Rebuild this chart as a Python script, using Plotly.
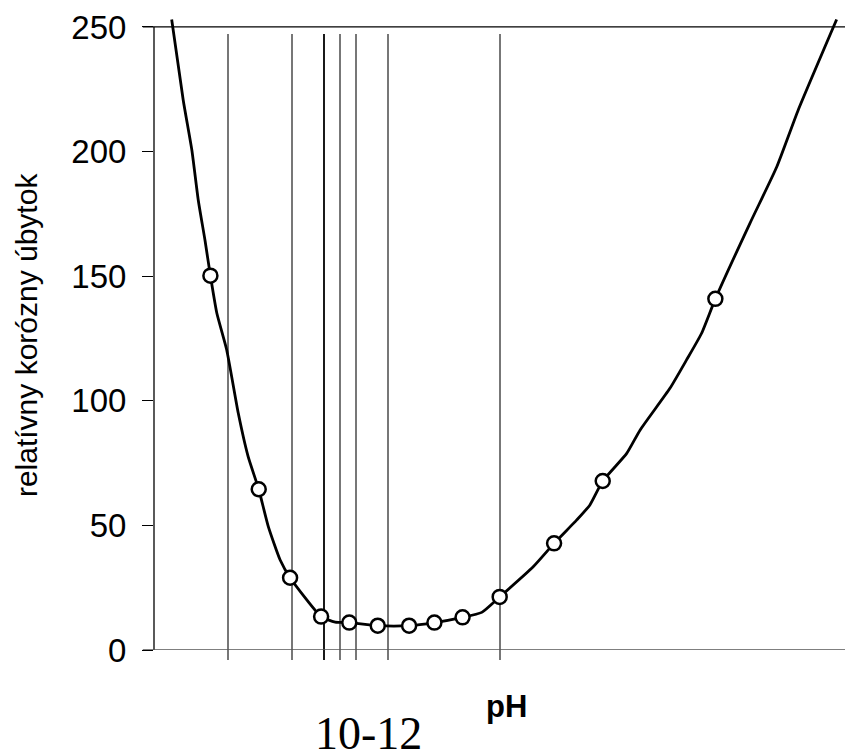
import plotly.graph_objects as go

# measured points (pH-like horizontal scale, relative corrosion loss)
ph_meas = [6.45, 7.96, 8.94, 9.91, 10.79, 11.68, 12.66, 13.45, 14.33, 15.49, 17.19, 18.71, 22.23]
loss_meas = [150.2, 64.5, 29.0, 13.4, 11.0, 9.75, 9.75, 11.0, 13.1, 21.3, 42.8, 67.8, 140.9]

# fitted curve drawn through the measurements
ph_curve = [5.24, 5.60, 5.87, 6.07, 6.28, 6.45, 6.65, 6.96, 7.32, 7.63, 7.96, 8.26, 8.63, 8.94,
            9.91, 10.35, 10.79, 11.68, 12.66, 13.45, 14.33, 14.93, 15.49, 16.53, 17.19, 17.90,
            18.31, 18.71, 19.46, 19.88, 20.81, 21.33, 21.80, 22.23, 23.31, 24.15, 24.82, 26.02]
loss_curve = [253.0, 220.7, 200.6, 180.6, 164.5, 150.2, 135.2, 120.4, 95.1, 77.6, 64.5, 49.5, 36.1, 29.0,
              13.4, 11.2, 11.0, 9.75, 9.75, 11.0, 13.1, 15.1, 21.3, 33.3, 42.8, 52.2,
              58.2, 67.8, 78.9, 88.3, 105.0, 116.4, 127.1, 140.9, 171.2, 193.9, 216.7, 253.0]

# vertical reference lines
vlines_gray = [7, 9, 10.5, 11, 12, 15.5]
vlines_black = [10]

y_ticks = [0, 50, 100, 150, 200, 250]
y_title = "relatívny korózny úbytok"
x_title = "pH"
range_label = "10-12"

SANS = "Liberation Sans, Arial, sans-serif"
SERIF = "Liberation Serif, Times New Roman, serif"

fig = go.Figure()
fig.add_trace(go.Scatter(x=ph_curve, y=loss_curve, mode="lines",
                         line=dict(color="black", width=2.8, shape="spline", smoothing=0.5),
                         hoverinfo="skip", showlegend=False))
fig.add_trace(go.Scatter(x=ph_meas, y=loss_meas, mode="markers",
                         marker=dict(symbol="circle", size=14, color="white",
                                     line=dict(color="black", width=2.5)),
                         showlegend=False))

shapes = []
for v in vlines_gray:
    shapes.append(dict(type="line", xref="x", yref="paper", x0=v, x1=v, y0=-0.0158, y1=0.9762,
                       line=dict(color="#555555", width=1.6), layer="below"))
for v in vlines_black:
    shapes.append(dict(type="line", xref="x", yref="paper", x0=v, x1=v, y0=-0.0158, y1=0.9762,
                       line=dict(color="black", width=1.8), layer="below"))
# top line at 250
shapes.append(dict(type="line", xref="paper", yref="y", x0=-0.016, x1=1, y0=250, y1=250,
                   line=dict(color="black", width=1.3), layer="below"))
# y axis line from 0 to 250
shapes.append(dict(type="line", xref="paper", yref="y", x0=0, x1=0, y0=0, y1=250,
                   line=dict(color="black", width=1.3), layer="below"))
# bottom line
shapes.append(dict(type="line", xref="paper", yref="y", x0=-0.016, x1=1, y0=0, y1=0,
                   line=dict(color="#555555", width=1.3), layer="below"))

fig.update_layout(
    width=845, height=743,
    margin=dict(l=146, r=0, t=11, b=101),
    paper_bgcolor="white", plot_bgcolor="white",
    shapes=shapes,
    xaxis=dict(range=[4.6875, 26.53125], showline=False, showgrid=False, zeroline=False,
               showticklabels=False, ticks=""),
    yaxis=dict(range=[0, 253.2], showline=False, showgrid=False, zeroline=False,
               tickvals=y_ticks, ticks="outside", ticklen=11, tickwidth=1.3, tickcolor="black",
               tickfont=dict(family=SANS, size=33, color="black"), ticklabelstandoff=9),
    annotations=[
        dict(text=y_title, xref="paper", yref="paper", x=-0.183, y=0.4992, textangle=-90,
             showarrow=False, xanchor="center", yanchor="middle",
             font=dict(family=SANS, size=30, color="black")),
        dict(text="<b>" + x_title + "</b>", xref="x", yref="paper", x=15.70, y=-0.0903,
             showarrow=False, xanchor="center", yanchor="middle",
             font=dict(family=SANS, size=31, color="black")),
        dict(text=range_label, xref="x", yref="paper", x=11.375, y=-0.1331,
             showarrow=False, xanchor="center", yanchor="middle",
             font=dict(family=SERIF, size=46, color="black")),
    ],
)

fig.write_html("out.html")
